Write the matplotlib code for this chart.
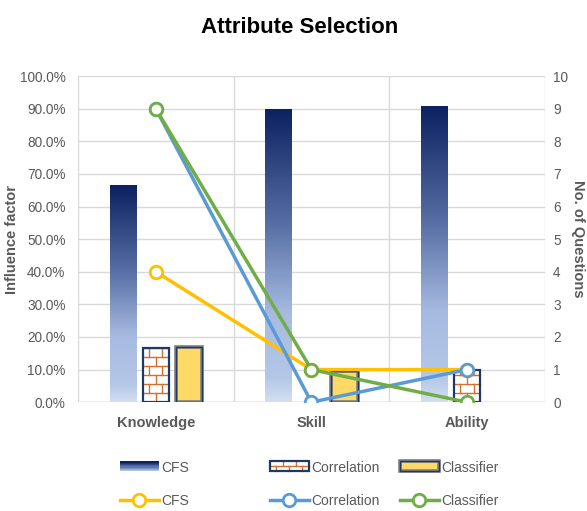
import matplotlib
matplotlib.use("Agg")
import matplotlib.pyplot as plt
import numpy as np
from matplotlib.colors import LinearSegmentedColormap
from matplotlib.patches import Rectangle
from matplotlib.lines import Line2D
from matplotlib.legend_handler import HandlerBase

# ---- data ----
categories = ["Knowledge", "Skill", "Ability"]
bar_cfs = [66.5, 90.0, 90.8]          # Influence factor (%)
bar_corr = [16.7, 0.0, 10.0]
bar_clf = [16.9, 9.6, 0.0]
line_cfs = [4, 1, 1]                  # No. of questions
line_corr = [9, 0, 1]
line_clf = [9, 1, 0]
series_names = ["CFS", "Correlation", "Classifier"]

plt.rcParams['font.family'] = ['Liberation Sans', 'DejaVu Sans']

NAVY = '#1f3864'
BRICK = '#d46f2f'
YELLOW = '#ffd966'
C_CFS = '#ffc000'
C_CORR = '#5b9bd5'
C_CLF = '#70ad47'
TXT = '#595959'
GRID = '#d9d9d9'

grad = LinearSegmentedColormap.from_list(
    'cfs', [(0.0, '#d3def2'), (0.08, '#b4c7e7'), (0.3, '#a7bbe1'),
            (0.6, '#5870a5'), (1.0, '#0b2161')])
gradient = np.linspace(0, 1, 256).reshape(-1, 1)

fig = plt.figure(figsize=(5.87, 5.11), dpi=100)
ax = fig.add_axes([0.133, 0.213, 0.795, 0.638])
ax2 = ax.twinx()

x = np.arange(len(categories))
w = 0.17
off = 0.212


def draw_bricks(axis, x0, width, height, rh=2.75):
    rows = int(np.ceil(height / rh))
    for k in range(rows):
        y0 = k * rh
        y1 = min(height, y0 + rh)
        if k > 0:
            axis.plot([x0, x0 + width], [y0, y0], color=BRICK, lw=1.0, zorder=3)
        xs = [x0 + width / 2] if k % 2 == 0 else [x0 + width / 4, x0 + 3 * width / 4]
        for xv in xs:
            axis.plot([xv, xv], [y0, y1], color=BRICK, lw=1.0, zorder=3)


# CFS gradient bars
for xi, h in zip(x - off, bar_cfs):
    r = ax.bar(xi, h, w, color='none', edgecolor='none', zorder=2)[0]
    im = ax.imshow(gradient, cmap=grad, origin='lower', aspect='auto',
                   extent=[xi - w / 2, xi + w / 2, 0, h], zorder=2)
    im.set_clip_path(r)

# Correlation brick bars
for xi, h in zip(x, bar_corr):
    if h <= 0:
        continue
    ax.bar(xi, h, w, color='white', edgecolor='none', zorder=2)
    draw_bricks(ax, xi - w / 2, w, h)
    ax.bar(xi, h, w, color='none', edgecolor=NAVY, lw=1.6, zorder=4)

# Classifier bars
for xi, h in zip(x + off, bar_clf):
    if h <= 0:
        continue
    ax.bar(xi, h, w, color=YELLOW, edgecolor='#7f7f7f', lw=2.6, zorder=2)
    ax.bar(xi, h, w, color='none', edgecolor=NAVY, lw=1.0, zorder=3)

ax.set_xlim(-0.5, 2.5)
ax.set_ylim(0, 100)
ax.set_yticks(np.arange(0, 101, 10))
ax.set_yticklabels(['%.1f%%' % v for v in np.arange(0, 101, 10)])
ax.set_xticks(x)
ax.set_xticklabels(categories, fontweight='bold')
ax.set_axisbelow(True)
ax.yaxis.grid(True, color=GRID, lw=1.0, zorder=0)
for xv in [-0.5, 0.5, 1.5, 2.5]:
    ax.axvline(xv, color=GRID, lw=1.0, zorder=0)
for s in ax.spines.values():
    s.set_visible(False)
ax.axhline(0, color='#bfbfbf', lw=1.0, zorder=1)
ax.tick_params(axis='both', length=0, colors=TXT, labelsize=9.8, pad=9)
ax.tick_params(axis='x', pad=10, labelsize=10.5)
ax.set_ylabel('Influence factor', fontweight='bold', color=TXT, fontsize=10.5)
ax.yaxis.set_label_coords(-0.126, 0.5)

# lines on secondary axis
mk = dict(marker='o', markersize=9, markerfacecolor='white', markeredgewidth=2, lw=2.5)
ax2.plot(x, line_cfs, color=C_CFS, **mk, zorder=5)
ax2.plot(x, line_corr, color=C_CORR, **mk, zorder=5)
ax2.plot(x, line_clf, color=C_CLF, **mk, zorder=5)
ax2.set_ylim(0, 10)
ax2.set_yticks(range(0, 11))
for s in ax2.spines.values():
    s.set_visible(False)
ax2.tick_params(axis='y', length=0, colors=TXT, labelsize=9.8, pad=6)
ax2.set_ylabel('No. of Questions', fontweight='bold', color=TXT, fontsize=10.5,
               rotation=270, va='center')
ax2.yaxis.set_label_coords(1.071, 0.5)

fig.text(0.51, 0.947, 'Attribute Selection', ha='center', va='center',
         fontsize=16, fontweight='bold', color='black')


# ---- legend ----
class GradHandler(HandlerBase):
    def create_artists(self, legend, orig, xd, yd, width, height, fontsize, trans):
        arts = []
        n = 8
        for i in range(n):
            c = grad(1 - i / (n - 1) * 0.75)
            arts.append(Rectangle((xd, yd + height * (1 - (i + 1) / n)), width, height / n,
                                  facecolor=c, edgecolor='none', transform=trans))
        return arts


class BrickHandler(HandlerBase):
    def create_artists(self, legend, orig, xd, yd, width, height, fontsize, trans):
        arts = [Rectangle((xd, yd), width, height, facecolor='white', edgecolor='none',
                          transform=trans)]
        arts.append(Line2D([xd, xd + width], [yd + height / 2] * 2, color=BRICK, lw=1,
                           transform=trans))
        for xv in [xd + width / 3, xd + 2 * width / 3]:
            arts.append(Line2D([xv, xv], [yd + height / 2, yd + height], color=BRICK, lw=1,
                               transform=trans))
        for xv in [xd + width / 6, xd + width / 2, xd + 5 * width / 6]:
            arts.append(Line2D([xv, xv], [yd, yd + height / 2], color=BRICK, lw=1,
                               transform=trans))
        arts.append(Rectangle((xd, yd), width, height, facecolor='none', edgecolor=NAVY,
                              lw=1.6, transform=trans))
        return arts


class ClfHandler(HandlerBase):
    def create_artists(self, legend, orig, xd, yd, width, height, fontsize, trans):
        return [Rectangle((xd, yd), width, height, facecolor=YELLOW, edgecolor='#7f7f7f',
                          lw=2.6, transform=trans),
                Rectangle((xd, yd), width, height, facecolor='none', edgecolor=NAVY,
                          lw=1.0, transform=trans)]


bar_handles = [(Rectangle((0, 0), 1, 1), GradHandler()),
               (Rectangle((0, 0), 1, 1), BrickHandler()),
               (Rectangle((0, 0), 1, 1), ClfHandler())]
line_handles = [Line2D([], [], color=c, **mk) for c in (C_CFS, C_CORR, C_CLF)]
col_x = [120, 270, 400]   # left edge of each legend column, pixels

for (hb, hdl), hl, name, px in zip(bar_handles, line_handles, series_names, col_x):
    leg = fig.legend([hb, hl], [name, name], handler_map={hb: hdl},
                     loc='center left', bbox_to_anchor=(px / 587, 0.052),
                     frameon=False, fontsize=10, handlelength=2.8, handleheight=0.75,
                     handletextpad=0.15, labelspacing=1.4, borderpad=0,
                     borderaxespad=0)
    for t in leg.get_texts():
        t.set_color(TXT)

fig.savefig('out.png', dpi=100)
